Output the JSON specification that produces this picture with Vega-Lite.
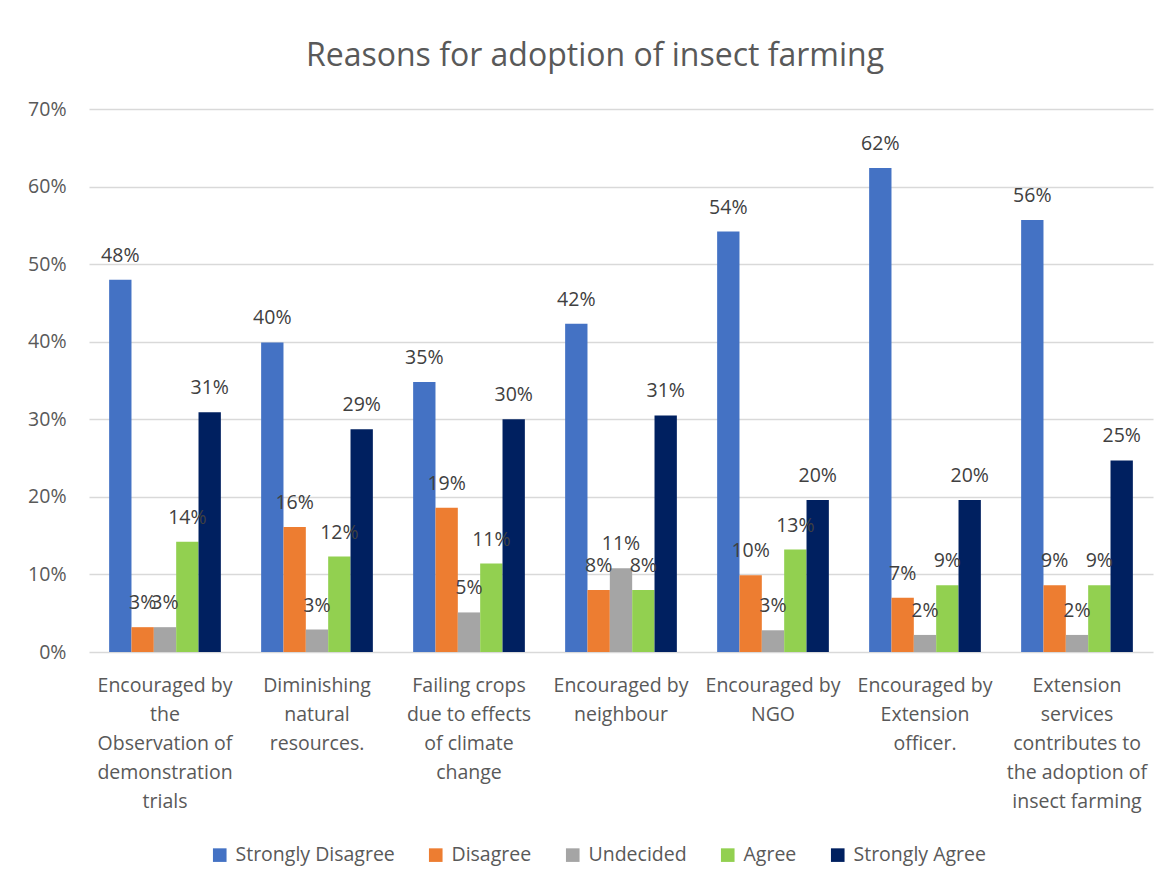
{
  "$schema": "https://vega.github.io/schema/vega-lite/v6.json",
  "width": 1064,
  "height": 543,
  "autosize": {"type": "none"},
  "padding": {"left": 89, "top": 109, "right": 18, "bottom": 234},
  "background": "white",
  "config": {"view": {"stroke": null}},
  "title": {
    "text": "Reasons for adoption of insect farming",
    "font": "Open Sans",
    "fontSize": 32,
    "fontWeight": "normal",
    "color": "#595959",
    "anchor": "middle",
    "dx": -26,
    "offset": 26
  },
  "data": {
    "values": [
      {"reason": "Encouraged by|the|Observation of|demonstration|trials", "response": "Strongly Disagree", "share": 0.480},
      {"reason": "Encouraged by|the|Observation of|demonstration|trials", "response": "Disagree", "share": 0.032},
      {"reason": "Encouraged by|the|Observation of|demonstration|trials", "response": "Undecided", "share": 0.032},
      {"reason": "Encouraged by|the|Observation of|demonstration|trials", "response": "Agree", "share": 0.142},
      {"reason": "Encouraged by|the|Observation of|demonstration|trials", "response": "Strongly Agree", "share": 0.309},
      {"reason": "Diminishing|natural|resources.", "response": "Strongly Disagree", "share": 0.399},
      {"reason": "Diminishing|natural|resources.", "response": "Disagree", "share": 0.161},
      {"reason": "Diminishing|natural|resources.", "response": "Undecided", "share": 0.029},
      {"reason": "Diminishing|natural|resources.", "response": "Agree", "share": 0.123},
      {"reason": "Diminishing|natural|resources.", "response": "Strongly Agree", "share": 0.287},
      {"reason": "Failing crops|due to effects|of climate|change", "response": "Strongly Disagree", "share": 0.348},
      {"reason": "Failing crops|due to effects|of climate|change", "response": "Disagree", "share": 0.186},
      {"reason": "Failing crops|due to effects|of climate|change", "response": "Undecided", "share": 0.051},
      {"reason": "Failing crops|due to effects|of climate|change", "response": "Agree", "share": 0.114},
      {"reason": "Failing crops|due to effects|of climate|change", "response": "Strongly Agree", "share": 0.300},
      {"reason": "Encouraged by|neighbour", "response": "Strongly Disagree", "share": 0.423},
      {"reason": "Encouraged by|neighbour", "response": "Disagree", "share": 0.080},
      {"reason": "Encouraged by|neighbour", "response": "Undecided", "share": 0.108},
      {"reason": "Encouraged by|neighbour", "response": "Agree", "share": 0.080},
      {"reason": "Encouraged by|neighbour", "response": "Strongly Agree", "share": 0.305},
      {"reason": "Encouraged by|NGO", "response": "Strongly Disagree", "share": 0.542},
      {"reason": "Encouraged by|NGO", "response": "Disagree", "share": 0.099},
      {"reason": "Encouraged by|NGO", "response": "Undecided", "share": 0.028},
      {"reason": "Encouraged by|NGO", "response": "Agree", "share": 0.132},
      {"reason": "Encouraged by|NGO", "response": "Strongly Agree", "share": 0.196},
      {"reason": "Encouraged by|Extension|officer.", "response": "Strongly Disagree", "share": 0.624},
      {"reason": "Encouraged by|Extension|officer.", "response": "Disagree", "share": 0.070},
      {"reason": "Encouraged by|Extension|officer.", "response": "Undecided", "share": 0.022},
      {"reason": "Encouraged by|Extension|officer.", "response": "Agree", "share": 0.086},
      {"reason": "Encouraged by|Extension|officer.", "response": "Strongly Agree", "share": 0.196},
      {"reason": "Extension|services|contributes to|the adoption of|insect farming", "response": "Strongly Disagree", "share": 0.557},
      {"reason": "Extension|services|contributes to|the adoption of|insect farming", "response": "Disagree", "share": 0.086},
      {"reason": "Extension|services|contributes to|the adoption of|insect farming", "response": "Undecided", "share": 0.022},
      {"reason": "Extension|services|contributes to|the adoption of|insect farming", "response": "Agree", "share": 0.086},
      {"reason": "Extension|services|contributes to|the adoption of|insect farming", "response": "Strongly Agree", "share": 0.247}
    ]
  },
  "encoding": {
    "x": {
      "field": "reason",
      "type": "nominal",
      "sort": null,
      "scale": {"paddingInner": 0.265, "paddingOuter": 0.1325},
      "axis": {
        "title": null,
        "labelAngle": 0,
        "labelExpr": "split(datum.label, '|')",
        "labelFont": "Open Sans",
        "labelFontSize": 19.5,
        "labelColor": "#595959",
        "labelLineHeight": 29,
        "labelPadding": 24,
        "labelLimit": 220,
        "ticks": false,
        "domain": false
      }
    },
    "xOffset": {
      "field": "response",
      "type": "nominal",
      "sort": ["Strongly Disagree", "Disagree", "Undecided", "Agree", "Strongly Agree"],
      "scale": {"paddingInner": 0, "paddingOuter": 0}
    },
    "y": {
      "field": "share",
      "type": "quantitative",
      "scale": {"domain": [0, 0.7]},
      "axis": {
        "title": null,
        "values": [0, 0.1, 0.2, 0.3, 0.4, 0.5, 0.6, 0.7],
        "format": ".0%",
        "labelFont": "Open Sans",
        "labelFontSize": 19.5,
        "labelColor": "#595959",
        "labelPadding": 23,
        "ticks": false,
        "domain": false,
        "grid": true,
        "gridColor": "#D9D9D9",
        "gridWidth": 1.3
      }
    }
  },
  "layer": [
    {
      "mark": {"type": "bar"},
      "encoding": {
        "color": {
          "field": "response",
          "type": "nominal",
          "scale": {
            "domain": ["Strongly Disagree", "Disagree", "Undecided", "Agree", "Strongly Agree"],
            "range": ["#4472C4", "#ED7D31", "#A5A5A5", "#92D050", "#002060"]
          },
          "legend": {
            "title": null,
            "orient": "none",
            "legendX": 121,
            "legendY": 736,
            "direction": "horizontal",
            "symbolType": "square",
            "symbolSize": 185,
            "symbolStrokeWidth": 0,
            "labelFont": "Open Sans",
            "labelFontSize": 19.5,
            "labelColor": "#595959",
            "labelOffset": 6,
            "columnPadding": 31,
            "padding": 0
          }
        }
      }
    },
    {
      "mark": {
        "type": "text",
        "baseline": "alphabetic",
        "dy": -18,
        "font": "Open Sans",
        "fontSize": 19.5,
        "color": "#404040"
      },
      "encoding": {
        "text": {"field": "share", "type": "quantitative", "format": ".0%"}
      }
    }
  ]
}
